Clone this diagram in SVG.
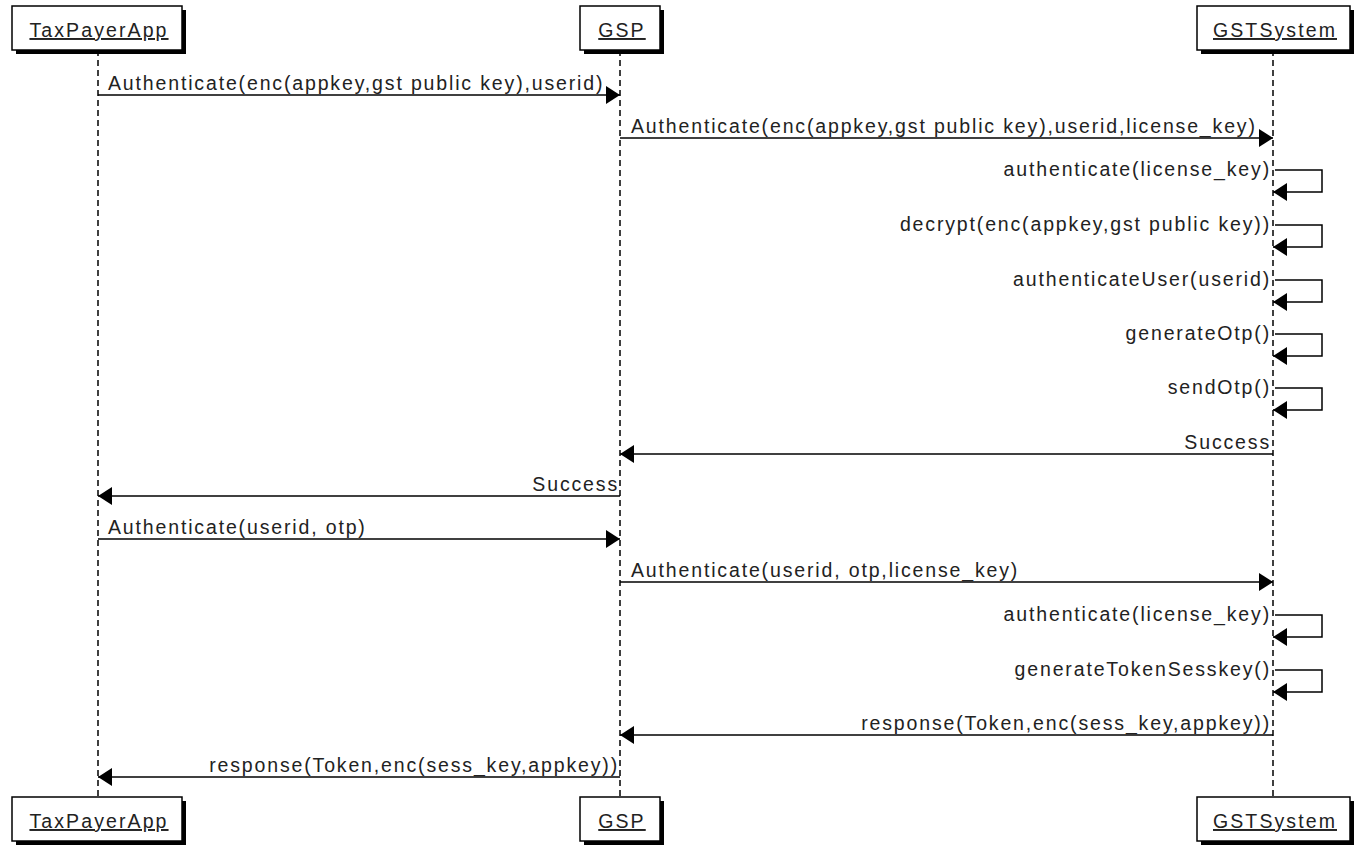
<svg xmlns="http://www.w3.org/2000/svg" width="1355" height="846" viewBox="0 0 1355 846">
<style>
.box{fill:#fff;stroke:#000;stroke-width:1.5}
.shadow{fill:#000}
.name{font-family:"Liberation Sans",Arial,sans-serif;font-size:19.5px;letter-spacing:2.1px;fill:#222;text-anchor:middle;text-decoration:underline}
.life{stroke:#000;stroke-width:1.5;stroke-dasharray:6 4;fill:none}
.msg{stroke:#000;stroke-width:1.5;fill:none;marker-end:url(#ah)}
.lbl{font-family:"Liberation Sans",Arial,sans-serif;font-size:19.5px;letter-spacing:1.85px;fill:#222}
.r{text-anchor:end}
</style>
<defs>
<marker id="ah" markerUnits="userSpaceOnUse" markerWidth="15" markerHeight="19" refX="14" refY="9" orient="auto">
<path d="M0,0 L14,9 L0,18 z" fill="#000"/>
</marker>
</defs>
<g id="lifelines">
<line class="life" x1="98" y1="50" x2="98" y2="797"/>
<line class="life" x1="620" y1="50" x2="620" y2="797"/>
<line class="life" x1="1273" y1="50" x2="1273" y2="797"/>
</g>
<g id="TaxPayerApp_top">
<rect class="shadow" x="16" y="10" width="170" height="44"/>
<rect class="box" x="12" y="6" width="170" height="44"/>
<text class="name" x="99" y="37">TaxPayerApp</text>
</g>
<g id="GSP_top">
<rect class="shadow" x="584" y="10" width="80" height="44"/>
<rect class="box" x="580" y="6" width="80" height="44"/>
<text class="name" x="622" y="37">GSP</text>
</g>
<g id="GSTSystem_top">
<rect class="shadow" x="1201" y="10" width="153" height="44"/>
<rect class="box" x="1197" y="6" width="153" height="44"/>
<text class="name" x="1275" y="37">GSTSystem</text>
</g>
<g id="TaxPayerApp_bottom">
<rect class="shadow" x="16" y="801" width="170" height="44"/>
<rect class="box" x="12" y="797" width="170" height="44"/>
<text class="name" x="99" y="828">TaxPayerApp</text>
</g>
<g id="GSP_bottom">
<rect class="shadow" x="584" y="801" width="80" height="44"/>
<rect class="box" x="580" y="797" width="80" height="44"/>
<text class="name" x="622" y="828">GSP</text>
</g>
<g id="GSTSystem_bottom">
<rect class="shadow" x="1201" y="801" width="153" height="44"/>
<rect class="box" x="1197" y="797" width="153" height="44"/>
<text class="name" x="1275" y="828">GSTSystem</text>
</g>
<g id="connectors">
<line class="msg" x1="98" y1="95" x2="620" y2="95"/>
<line class="msg" x1="620" y1="138" x2="1273" y2="138"/>
<polyline class="msg" points="1275,170 1322,170 1322,192 1273,192"/>
<polyline class="msg" points="1275,225 1322,225 1322,247 1273,247"/>
<polyline class="msg" points="1275,280 1322,280 1322,302 1273,302"/>
<polyline class="msg" points="1275,334 1322,334 1322,356 1273,356"/>
<polyline class="msg" points="1275,388 1322,388 1322,410 1273,410"/>
<line class="msg" x1="1273" y1="454" x2="620" y2="454"/>
<line class="msg" x1="620" y1="496" x2="98" y2="496"/>
<line class="msg" x1="98" y1="539" x2="620" y2="539"/>
<line class="msg" x1="620" y1="582" x2="1273" y2="582"/>
<polyline class="msg" points="1275,615 1322,615 1322,637 1273,637"/>
<polyline class="msg" points="1275,670 1322,670 1322,692 1273,692"/>
<line class="msg" x1="1273" y1="735" x2="620" y2="735"/>
<line class="msg" x1="620" y1="777" x2="98" y2="777"/>
</g>
<g id="labels">
<text class="lbl" x="108" y="90">Authenticate(enc(appkey,gst public key),userid)</text>
<text class="lbl" x="631" y="133">Authenticate(enc(appkey,gst public key),userid,license_key)</text>
<text class="lbl r" x="1271" y="176">authenticate(license_key)</text>
<text class="lbl r" x="1271" y="231">decrypt(enc(appkey,gst public key))</text>
<text class="lbl r" x="1271" y="286">authenticateUser(userid)</text>
<text class="lbl r" x="1271" y="340">generateOtp()</text>
<text class="lbl r" x="1271" y="394">sendOtp()</text>
<text class="lbl r" x="1271" y="449">Success</text>
<text class="lbl r" x="619" y="491">Success</text>
<text class="lbl" x="108" y="534">Authenticate(userid, otp)</text>
<text class="lbl" x="631" y="577">Authenticate(userid, otp,license_key)</text>
<text class="lbl r" x="1271" y="621">authenticate(license_key)</text>
<text class="lbl r" x="1271" y="676">generateTokenSesskey()</text>
<text class="lbl r" x="1271" y="730">response(Token,enc(sess_key,appkey))</text>
<text class="lbl r" x="619" y="772">response(Token,enc(sess_key,appkey))</text>
</g>
</svg>
